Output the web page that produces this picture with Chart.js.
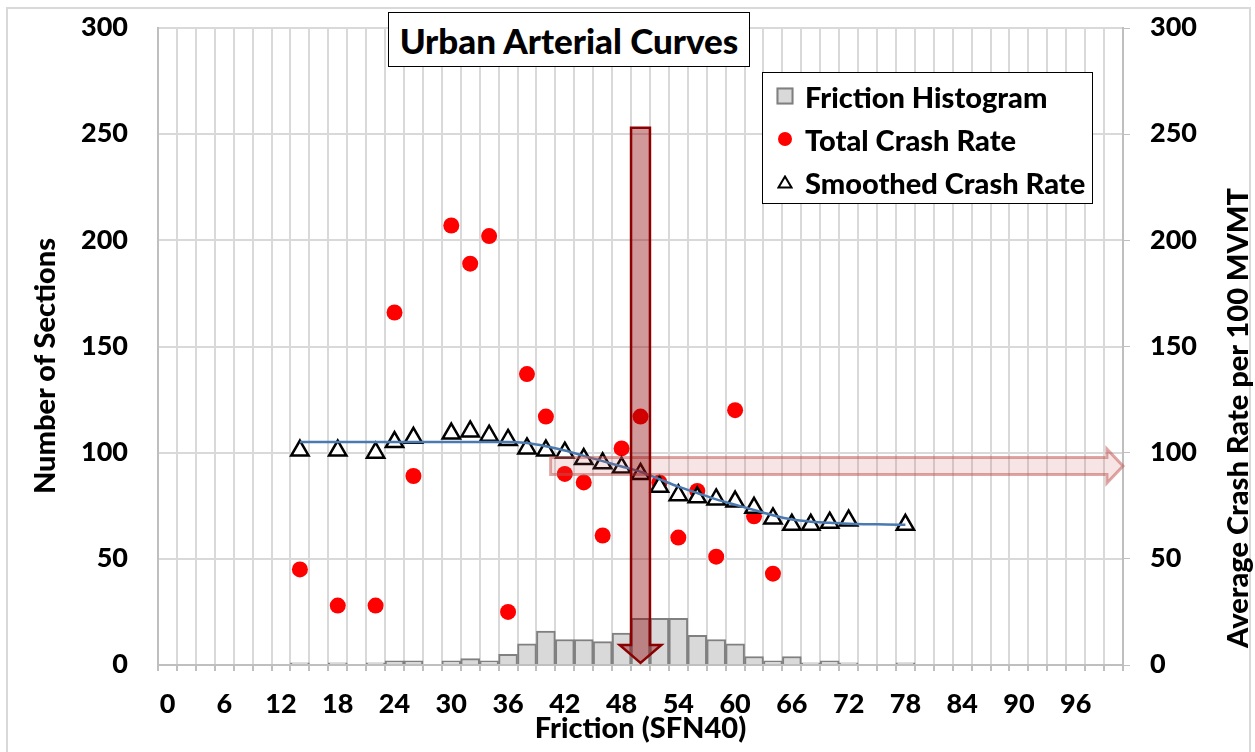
<!DOCTYPE html>
<html>
<head>
<meta charset="utf-8">
<title>Urban Arterial Curves</title>
<script src="https://cdn.jsdelivr.net/npm/chart.js@4.4.1/dist/chart.umd.min.js"></script>
<style>
  body { margin: 0; background: #fff; overflow: hidden; font-family: "Lato Heavy", Lato, sans-serif; }
  #wrap { position: relative; width: 1255px; height: 752px; overflow: hidden; }
  #frame { position: absolute; left: 6px; top: 7px; width: 1245px; height: 800px; border: 2px solid #d9d9d9; box-sizing: border-box; pointer-events: none; }
  canvas { position: absolute; left: 0; top: 0; }
  .box { position: absolute; background: #fff; border: 1.5px solid #000; box-sizing: border-box; color: #000; }
  #titleBox { left: 388px; top: 12px; width: 362px; height: 55px; font-size: 35px; display: flex; align-items: center; justify-content: center; }
  #legendBox { left: 762px; top: 72px; width: 331px; height: 132px; font-size: 29px; }
  .item { position: absolute; left: 0; width: 100%; height: 40px; }
  .item span.txt { position: absolute; left: 42px; top: 50%; transform: translateY(-50%); white-space: nowrap; }
  .sym { position: absolute; left: 22px; top: 50%; transform: translate(-50%, -50%); }
  .ytitle { position: absolute; font-size: 29px; color: #000; white-space: nowrap; transform: translate(-50%, -50%) rotate(-90deg); }
</style>
</head>
<body>
<div id="wrap">
  <canvas id="frictionChart" width="1255" height="752"></canvas>
  <div id="frame"></div>
  <div class="ytitle" style="left:43px; top:366px;">Number of Sections</div>
  <div class="ytitle" style="left:1236px; top:418px;">Average Crash Rate per 100 MVMT</div>
  <div class="box" id="titleBox">Urban Arterial Curves</div>
  <div class="box" id="legendBox">
    <div class="item" style="top:3px;">
      <div class="sym" style="width:13px;height:13px;background:#d9d9d9;border:2px solid #808080;"></div>
      <span class="txt">Friction Histogram</span>
    </div>
    <div class="item" style="top:46px;">
      <div class="sym" style="width:14px;height:14px;background:#ff0000;border-radius:50%;"></div>
      <span class="txt">Total Crash Rate</span>
    </div>
    <div class="item" style="top:89px;">
      <svg class="sym" width="16" height="14" viewBox="0 0 16 14"><polygon points="8,1.5 14.5,12.5 1.5,12.5" fill="#fff" stroke="#000" stroke-width="2"/></svg>
      <span class="txt">Smoothed Crash Rate</span>
    </div>
  </div>
</div>
<script>
// 類別 (Friction SFN40, 每 2 一格)
const frictionLabels = [0, 2, 4, 6, 8, 10, 12, 14, 16, 18, 20, 22, 24, 26, 28, 30, 32, 34, 36, 38,
  40, 42, 44, 46, 48, 50, 52, 54, 56, 58, 60, 62, 64, 66, 68, 70, 72, 74, 76, 78,
  80, 82, 84, 86, 88, 90, 92, 94, 96, 98, 100];

// 直方圖 (Number of Sections)
const sectionCounts = [0, 0, 0, 0, 0, 0, 0, 1, 0, 1, 0, 1, 2, 2, 0, 2, 3, 2, 5, 10,
  16, 12, 12, 11, 15, 22, 22, 22, 14, 12, 10, 4, 2, 4, 1, 2, 1, 0, 0, 1,
  0, 0, 0, 0, 0, 0, 0, 0, 0, 0, 0];

// 紅點 Total Crash Rate
const crashX = [14, 18, 22, 24, 26, 30, 32, 34, 36, 38, 40, 42, 44, 46, 48, 50, 52, 54, 56, 58, 60, 62, 64];
const crashRate = [45, 28, 28, 166, 89, 207, 189, 202, 25, 137, 117, 90, 86, 61, 102, 117, 86, 60, 82, 51, 120, 70, 43];

// 三角形 Smoothed Crash Rate
const smoothX = [14, 18, 22, 24, 26, 30, 32, 34, 36, 38, 40, 42, 44, 46, 48, 50, 52, 54, 56, 58, 60, 62, 64, 66, 68, 70, 72, 78];
const smoothRate = [101, 101, 100, 105, 107, 109, 110, 108, 106, 102, 101, 100, 97, 95, 93, 90, 84, 80, 79, 78, 77, 74, 69, 66, 66, 67, 68, 66];

// 藍色趨勢線
const trendX = [14, 16, 18, 20, 22, 24, 26, 28, 30, 32, 34, 36, 38, 40, 42, 44, 46, 48, 50, 52, 54, 56, 58, 60, 62, 64, 66, 68, 70, 72, 74, 76, 78];
const trendRate = [105, 105, 105, 105, 105, 105, 105, 105, 105, 105, 105, 105, 104.5, 103, 101, 98.5, 96, 93.5, 91, 87.5, 84, 81, 78, 75.5, 73, 70.5, 68.5, 67.5, 67, 66.5, 66.3, 66.2, 66];

// 箭頭 (資料座標)
const dropArrow = { x: 50, halfWidth: 1, yTop: 253, headBase: 9.4, yTip: 1, headHalf: 2.2 };
const shiftArrow = { xStart: 40.5, headStart: 99.3, xTip: 101, yMid: 93.7, halfH: 4, headHalf: 8 };

const FONT = '"Lato Heavy", Lato';
const tickFont = { family: FONT, size: 27, weight: 'normal' };

function toPoints(xs, ys) {
    return xs.map((x, i) => ({ x: String(x), y: ys[i] }));
}

// 固定 y 軸寬度, 不讓標籤撐開上下邊界
function fixYAxis(width) {
    return function (s) {
        s.width = width;
        s.paddingTop = 0;
        s.paddingBottom = 0;
    };
}

// 畫箭頭 plugin
const arrowPlugin = {
    id: 'arrows',
    afterDatasetsDraw(chart) {
        const ctx = chart.ctx;
        const xs = chart.scales.x;
        const ys = chart.scales.y2;
        const px = v => xs.getPixelForValue(v / 2);
        const py = v => ys.getPixelForValue(v);

        ctx.save();
        // 水平粉紅箭頭
        const a = shiftArrow;
        ctx.beginPath();
        ctx.moveTo(px(a.xStart), py(a.yMid + a.halfH));
        ctx.lineTo(px(a.headStart), py(a.yMid + a.halfH));
        ctx.lineTo(px(a.headStart), py(a.yMid + a.headHalf));
        ctx.lineTo(px(a.xTip), py(a.yMid));
        ctx.lineTo(px(a.headStart), py(a.yMid - a.headHalf));
        ctx.lineTo(px(a.headStart), py(a.yMid - a.halfH));
        ctx.lineTo(px(a.xStart), py(a.yMid - a.halfH));
        ctx.closePath();
        ctx.fillStyle = 'rgba(192, 80, 77, 0.15)';
        ctx.fill();
        ctx.lineWidth = 3;
        ctx.strokeStyle = 'rgba(192, 80, 77, 0.5)';
        ctx.stroke();

        // 垂直深紅箭頭
        const d = dropArrow;
        ctx.beginPath();
        ctx.moveTo(px(d.x - d.halfWidth), py(d.yTop));
        ctx.lineTo(px(d.x + d.halfWidth), py(d.yTop));
        ctx.lineTo(px(d.x + d.halfWidth), py(d.headBase));
        ctx.lineTo(px(d.x + d.headHalf), py(d.headBase));
        ctx.lineTo(px(d.x), py(d.yTip));
        ctx.lineTo(px(d.x - d.headHalf), py(d.headBase));
        ctx.lineTo(px(d.x - d.halfWidth), py(d.headBase));
        ctx.closePath();
        ctx.fillStyle = 'rgba(139, 0, 0, 0.4)';
        ctx.fill();
        ctx.lineWidth = 2.5;
        ctx.strokeStyle = '#8b0000';
        ctx.stroke();
        ctx.restore();
    }
};

const ctx = document.getElementById('frictionChart').getContext('2d');
new Chart(ctx, {
    data: {
        labels: frictionLabels.map(String),
        datasets: [
            {
                type: 'line',
                label: 'Trend',
                data: toPoints(trendX, trendRate),
                yAxisID: 'y2',
                borderColor: '#4a7ab0',
                borderWidth: 2.5,
                pointRadius: 0,
                cubicInterpolationMode: 'monotone',
                fill: false,
                order: 1
            },
            {
                type: 'line',
                label: 'Smoothed Crash Rate',
                data: toPoints(smoothX, smoothRate),
                yAxisID: 'y2',
                showLine: false,
                pointStyle: 'triangle',
                pointRadius: 10,
                pointBorderWidth: 2.5,
                pointBorderColor: '#000',
                pointBackgroundColor: '#fff',
                order: 2
            },
            {
                type: 'line',
                label: 'Total Crash Rate',
                data: toPoints(crashX, crashRate),
                yAxisID: 'y2',
                showLine: false,
                pointRadius: 8,
                pointBorderWidth: 0,
                pointBackgroundColor: '#ff0000',
                order: 3
            },
            {
                type: 'bar',
                label: 'Friction Histogram',
                data: sectionCounts,
                yAxisID: 'y',
                backgroundColor: '#d9d9d9',
                borderColor: '#808080',
                borderWidth: 2,
                barPercentage: 1,
                categoryPercentage: 1,
                order: 4
            }
        ]
    },
    options: {
        responsive: false,
        animation: false,
        layout: { padding: { top: 28, left: 0, right: 0, bottom: 0 } },
        plugins: {
            legend: { display: false },
            tooltip: { enabled: false }
        },
        scales: {
            x: {
                type: 'category',
                offset: true,
                grid: { offset: true, color: '#d9d9d9', lineWidth: 2, drawTicks: true, tickLength: 6, tickColor: '#bfbfbf' },
                border: { color: '#bfbfbf', width: 2 },
                ticks: {
                    autoSkip: false,
                    maxRotation: 0,
                    padding: 18,
                    color: '#000',
                    font: tickFont,
                    callback: function (v, i) { return i % 3 === 0 ? this.getLabelForValue(v) : ''; }
                },
                title: {
                    display: true,
                    text: 'Friction (SFN40)',
                    color: '#000',
                    font: { family: FONT, size: 29, weight: 'normal' },
                    padding: { top: 0, bottom: 5 }
                },
                afterFit(s) { s.height = 87; }
            },
            y: {
                position: 'left',
                min: 0,
                max: 300,
                grid: { color: '#d9d9d9', lineWidth: 2, drawTicks: false },
                border: { color: '#bfbfbf', width: 2 },
                ticks: { stepSize: 50, padding: 30, color: '#000', font: tickFont },
                afterFit: fixYAxis(158)
            },
            y2: {
                position: 'right',
                min: 0,
                max: 300,
                grid: { drawOnChartArea: false, drawTicks: true, tickLength: 7, color: '#bfbfbf' },
                border: { color: '#bfbfbf', width: 2 },
                ticks: { stepSize: 50, padding: 20, color: '#000', font: tickFont },
                afterFit: fixYAxis(132)
            }
        }
    },
    plugins: [arrowPlugin]
});
</script>
</body>
</html>
